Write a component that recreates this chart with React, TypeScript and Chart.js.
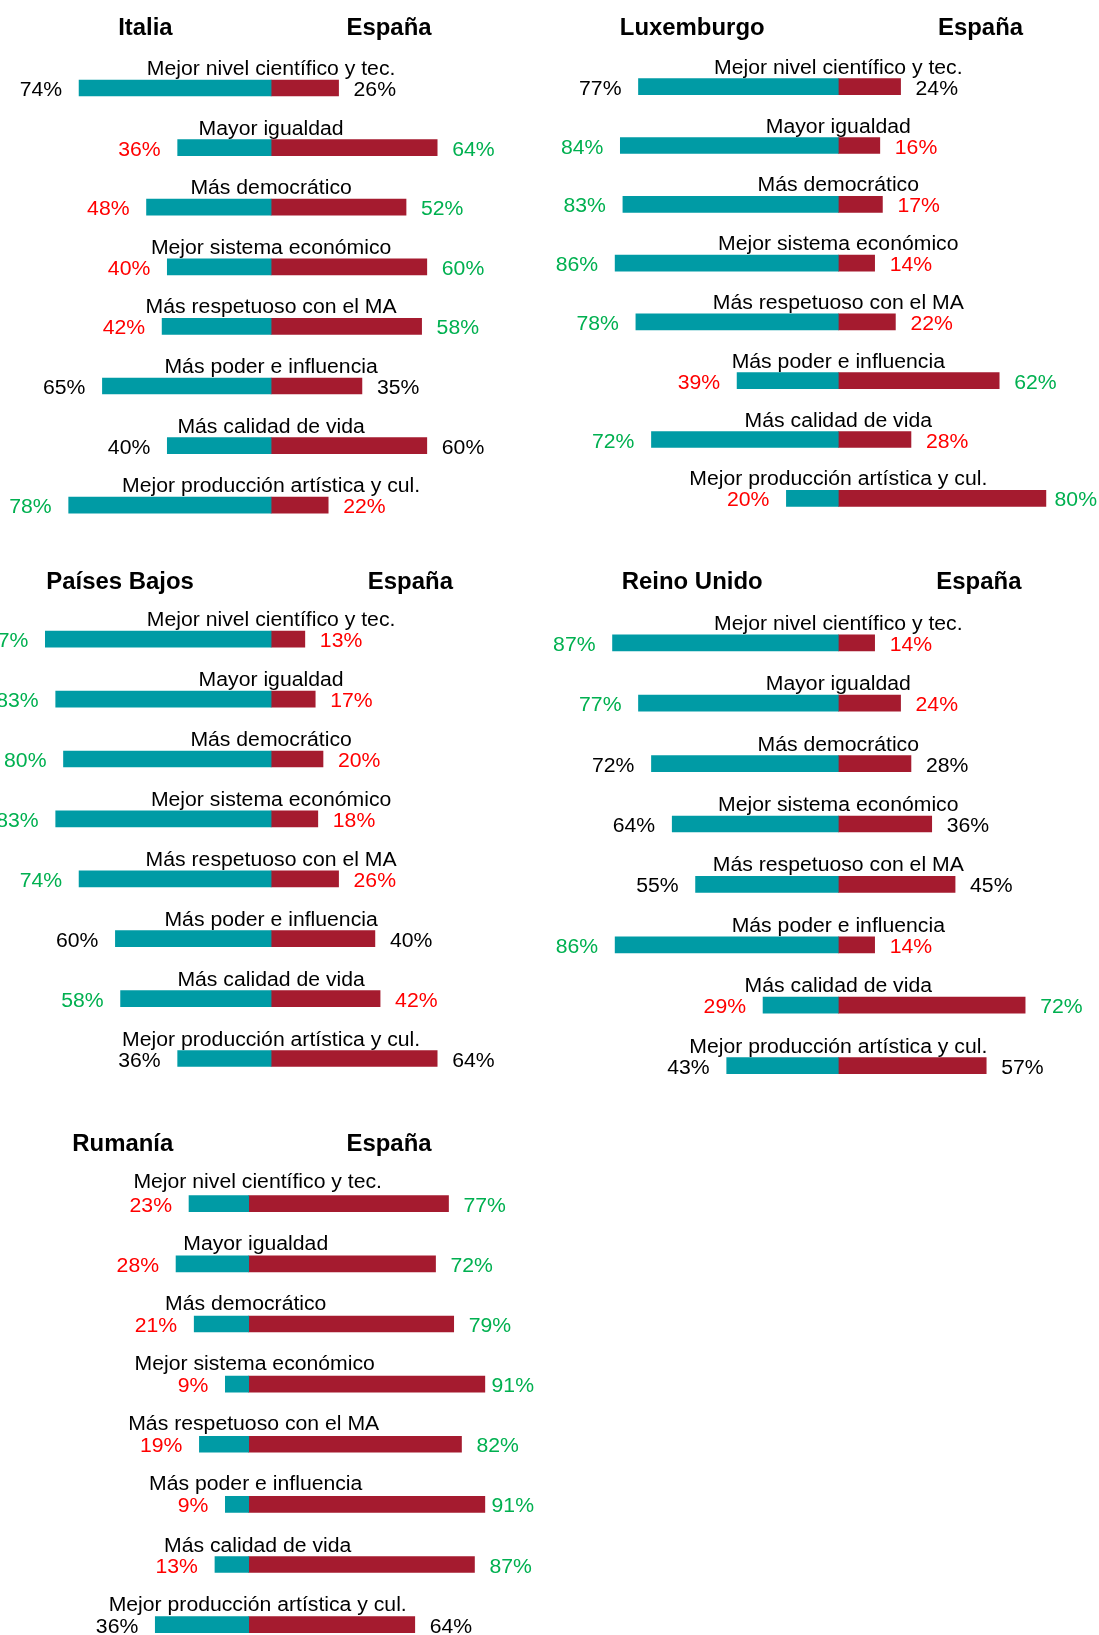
import React, { useEffect, useRef } from "react";
import { Chart, registerables } from "chart.js";

Chart.register(...registerables);

// ---------- DATA ----------
const categories = [
  "Mejor nivel científico y tec.",
  "Mayor igualdad",
  "Más democrático",
  "Mejor sistema económico",
  "Más respetuoso con el MA",
  "Más poder e influencia",
  "Más calidad de vida",
  "Mejor producción artística y cul.",
];
const spainName = "España";

// "mayor" = country significantly higher, "menor" = significantly lower, "ns" = no difference
const italiaName = "Italia";
const italia = [74, 36, 48, 40, 42, 65, 40, 78];
const espanaVsItalia = [26, 64, 52, 60, 58, 35, 60, 22];
const italiaSig = ["ns", "menor", "menor", "menor", "menor", "ns", "ns", "mayor"];

const luxName = "Luxemburgo";
const luxemburgo = [77, 84, 83, 86, 78, 39, 72, 20];
const espanaVsLux = [24, 16, 17, 14, 22, 62, 28, 80];
const luxSig = ["ns", "mayor", "mayor", "mayor", "mayor", "menor", "mayor", "menor"];

const pbName = "Países Bajos";
const paisesBajos = [87, 83, 80, 83, 74, 60, 58, 36];
const espanaVsPB = [13, 17, 20, 18, 26, 40, 42, 64];
const pbSig = ["mayor", "mayor", "mayor", "mayor", "mayor", "ns", "mayor", "ns"];

const ruName = "Reino Unido";
const reinoUnido = [87, 77, 72, 64, 55, 86, 29, 43];
const espanaVsRU = [14, 24, 28, 36, 45, 14, 72, 57];
const ruSig = ["mayor", "mayor", "ns", "ns", "ns", "mayor", "menor", "ns"];

const rumName = "Rumanía";
const rumania = [23, 28, 21, 9, 19, 9, 13, 36];
const espanaVsRum = [77, 72, 79, 91, 82, 91, 87, 64];
const rumSig = ["menor", "menor", "menor", "menor", "menor", "menor", "menor", "ns"];

// ---------- STYLE / LAYOUT ----------
const FONT = '"Liberation Sans", Arial, Helvetica, sans-serif';
const TEAL = "#009BA5";
const DARKRED = "#A51B2F";
const GREEN = "#00B050";
const RED = "#FF0000";
const BLACK = "#000000";
const PX_PER_PCT = 2.595;
const BAR_H = 16;
const TEXT_SIZE = 20;
const TEXT_SX = 1.06;
const HEAD_SIZE = 23;
const HEAD_SX = 1.04;

type PanelCfg = {
  country: string;
  left: number[];
  right: number[];
  sig: string[];
  box: { x: number; y: number; w: number; h: number };
  axisX: number;
  firstCenter: number;
  step: number;
  headerY: number;
  headCountryX: number;
  headSpainX: number;
  labelDx: number[];
  labelGap: number[];
  labelMaxX: number;
};

const zeros = [0, 0, 0, 0, 0, 0, 0, 0];
const gap5 = [5, 5, 5, 5, 5, 5, 5, 5];

const panels: PanelCfg[] = [
  {
    country: italiaName, left: italia, right: espanaVsItalia, sig: italiaSig,
    box: { x: 0, y: 0, w: 550, h: 545 }, axisX: 271.1, firstCenter: 88, step: 59.6,
    headerY: 35, headCountryX: 145.4, headSpainX: 389, labelDx: zeros, labelGap: gap5, labelMaxX: 548,
  },
  {
    country: luxName, left: luxemburgo, right: espanaVsLux, sig: luxSig,
    box: { x: 550, y: 0, w: 549, h: 545 }, axisX: 838.3, firstCenter: 86.7, step: 58.8,
    headerY: 35, headCountryX: 692.2, headSpainX: 980.5, labelDx: zeros, labelGap: gap5, labelMaxX: 1097,
  },
  {
    country: pbName, left: paisesBajos, right: espanaVsPB, sig: pbSig,
    box: { x: 0, y: 545, w: 550, h: 545 }, axisX: 271.1, firstCenter: 639.2, step: 59.9,
    headerY: 589.3, headCountryX: 120.1, headSpainX: 410.4, labelDx: zeros, labelGap: gap5, labelMaxX: 548,
  },
  {
    country: ruName, left: reinoUnido, right: espanaVsRU, sig: ruSig,
    box: { x: 550, y: 545, w: 549, h: 560 }, axisX: 838.3, firstCenter: 642.8, step: 60.4,
    headerY: 589.3, headCountryX: 692.2, headSpainX: 978.9, labelDx: zeros, labelGap: gap5, labelMaxX: 1097,
  },
  {
    country: rumName, left: rumania, right: espanaVsRum, sig: rumSig,
    box: { x: 0, y: 1090, w: 550, h: 570 }, axisX: 248.7, firstCenter: 1203.7, step: 60.14,
    headerY: 1151, headCountryX: 122.8, headSpainX: 389,
    labelDx: [9, 7, -3, 6, 5, 7, 9, 9], labelGap: [8, 6, 6, 6, 6, 6, 5, 6], labelMaxX: 534,
  },
];

function toneColors(s: string): [string, string] {
  if (s === "mayor") return [GREEN, RED];
  if (s === "menor") return [RED, GREEN];
  return [BLACK, BLACK];
}

function drawText(
  ctx: CanvasRenderingContext2D,
  text: string,
  x: number,
  y: number,
  align: CanvasTextAlign,
  font: string,
  color: string,
  sx: number
) {
  ctx.save();
  ctx.translate(x, y);
  ctx.scale(sx, 1);
  ctx.font = font;
  ctx.fillStyle = color;
  ctx.textAlign = align;
  ctx.textBaseline = "alphabetic";
  ctx.fillText(text, 0, 0);
  ctx.restore();
}

function textWidth(ctx: CanvasRenderingContext2D, text: string, font: string, sx: number) {
  ctx.save();
  ctx.font = font;
  const w = ctx.measureText(text).width * sx;
  ctx.restore();
  return w;
}

function Panel({ cfg }: { cfg: PanelCfg }) {
  const ref = useRef<HTMLCanvasElement | null>(null);

  useEffect(() => {
    const canvas = ref.current;
    if (!canvas) return;
    const { box } = cfg;
    const areaTop = cfg.firstCenter - cfg.step / 2 - box.y;
    const areaH = cfg.step * categories.length;
    const padBottom = box.h - areaTop - areaH;
    const xMin = -(cfg.axisX - box.x) / PX_PER_PCT;
    const xMax = (box.x + box.w - cfg.axisX) / PX_PER_PCT;

    const textPlugin = {
      id: "panelText",
      afterDatasetsDraw(chart: any) {
        const ctx: CanvasRenderingContext2D = chart.ctx;
        const headFont = `bold ${HEAD_SIZE}px ${FONT}`;
        const font = `${TEXT_SIZE}px ${FONT}`;
        drawText(ctx, cfg.country, cfg.headCountryX - box.x, cfg.headerY - box.y, "center", headFont, BLACK, HEAD_SX);
        drawText(ctx, spainName, cfg.headSpainX - box.x, cfg.headerY - box.y, "center", headFont, BLACK, HEAD_SX);
        const metaL = chart.getDatasetMeta(0);
        const metaR = chart.getDatasetMeta(1);
        const x0 = chart.scales.x.getPixelForValue(0);
        const maxX = cfg.labelMaxX - box.x;
        categories.forEach((cat, i) => {
          const barL = metaL.data[i];
          const barR = metaR.data[i];
          const yc = barL.y;
          const top = yc - BAR_H / 2;
          const bottom = yc + BAR_H / 2;
          const [cl, cr] = toneColors(cfg.sig[i]);
          drawText(ctx, cat, x0 + cfg.labelDx[i], top - cfg.labelGap[i], "center", font, BLACK, TEXT_SX);
          drawText(ctx, `${cfg.left[i]}%`, barL.x - 17, bottom, "right", font, cl, TEXT_SX);
          const rText = `${cfg.right[i]}%`;
          const rw = textWidth(ctx, rText, font, TEXT_SX);
          const rx = Math.min(barR.x + 15, maxX - rw);
          drawText(ctx, rText, rx, bottom, "left", font, cr, TEXT_SX);
        });
      },
    };

    const chart = new Chart(canvas, {
      type: "bar",
      data: {
        labels: categories,
        datasets: [
          {
            label: cfg.country,
            data: cfg.left.map((v) => -v),
            backgroundColor: TEAL,
            borderWidth: 0,
            barThickness: BAR_H,
          },
          {
            label: spainName,
            data: cfg.right,
            backgroundColor: DARKRED,
            borderWidth: 0,
            barThickness: BAR_H,
          },
        ],
      },
      options: {
        indexAxis: "y",
        responsive: false,
        maintainAspectRatio: false,
        animation: false,
        devicePixelRatio: 1,
        layout: { padding: { top: areaTop, bottom: padBottom, left: 0, right: 0 } },
        scales: {
          x: { type: "linear", stacked: true, display: false, min: xMin, max: xMax },
          y: { type: "category", stacked: true, display: false, offset: true },
        },
        plugins: {
          legend: { display: false },
          tooltip: { enabled: false },
          title: { display: false },
        },
      } as any,
      plugins: [textPlugin as any],
    });
    return () => chart.destroy();
  }, [cfg]);

  return (
    <canvas
      ref={ref}
      width={cfg.box.w}
      height={cfg.box.h}
      style={{
        position: "absolute",
        left: cfg.box.x,
        top: cfg.box.y,
        width: cfg.box.w,
        height: cfg.box.h,
      }}
    />
  );
}

export default function App() {
  return (
    <div
      style={{
        position: "absolute",
        left: 0,
        top: 0,
        width: 1099,
        height: 1635,
        overflow: "hidden",
        background: "#ffffff",
      }}
    >
      {panels.map((p) => (
        <Panel key={p.country} cfg={p} />
      ))}
    </div>
  );
}
